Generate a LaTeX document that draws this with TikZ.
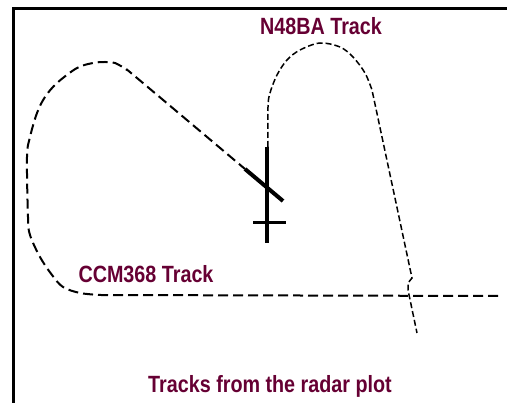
\documentclass[tikz,border=0pt]{standalone}
\usepackage{fontspec}
\setmainfont{Liberation Sans}[FakeStretch=0.84]
\usepackage{xcolor}
\usepackage{tikz}
\usetikzlibrary{calc}

\definecolor{labelred}{RGB}{102,0,51}

\begin{document}
\begin{tikzpicture}[
    x=1pt,
    y=-1pt,
    font=\fontsize{23.5}{26}\selectfont\bfseries,
    frame/.style={draw=black,line width=3pt},
    ccmtrack/.style={draw=black,line width=2pt,dash pattern=on 10pt off 5pt},
    ntrack/.style={draw=black,line width=1.5pt,dash pattern=on 6pt off 3pt},
    marker/.style={draw=black,line width=3.5pt},
    tracklabel/.style={text=labelred,anchor=base,inner sep=0pt}
]
\useasboundingbox (0,0) rectangle (507,403);

\draw[frame] (13,403) |- (507,9);

% CCM368 track
\coordinate (Cstart) at (498,296);
\coordinate (Cend) at (245,169);
\coordinate (Chead) at (283,201);
\draw[ccmtrack] (Cstart) -- (100,295) -- plot[smooth,tension=0.55] coordinates {
    (100,295) (80,293) (63,287) (52,275) (40,257) (30,235)
    (28,217) (27,157) (30,137) (37,113) (45,97) (57,83) (77,68)
    (93,63) (105,62) (115,63) (127,70) (137,78) (Cend)};
\draw[marker,line width=4pt] (Cend) -- (Chead);

% N48BA track
\coordinate (Nstart) at (268,147);
\coordinate (Nend) at (417,333);
\draw[ntrack] plot[smooth,tension=0.55] coordinates {
    (Nstart) (268,107) (270,93) (277,75) (287,60) (300,50) (320,43)
    (340,47) (353,57) (365,73) (372,90)}
    -- (412,278) -- (408,283) -- (408,290) -- (Nend);

% radar marker
\coordinate (Vtop) at (267,147);
\coordinate (Vbot) at (267,243);
\coordinate (Hl) at (253,223);
\coordinate (Hr) at (286,223);
\draw[marker] (Vtop) -- (Vbot);
\draw[marker,line width=3pt] (Hl) -- (Hr);

\node[tracklabel] (n48ba) at (321,35) {N48BA Track};
\node[tracklabel] (ccm368) at (146,283) {CCM368 Track};
\node[tracklabel] (caption) at (270,393) {Tracks from the radar plot};

\end{tikzpicture}
\end{document}
